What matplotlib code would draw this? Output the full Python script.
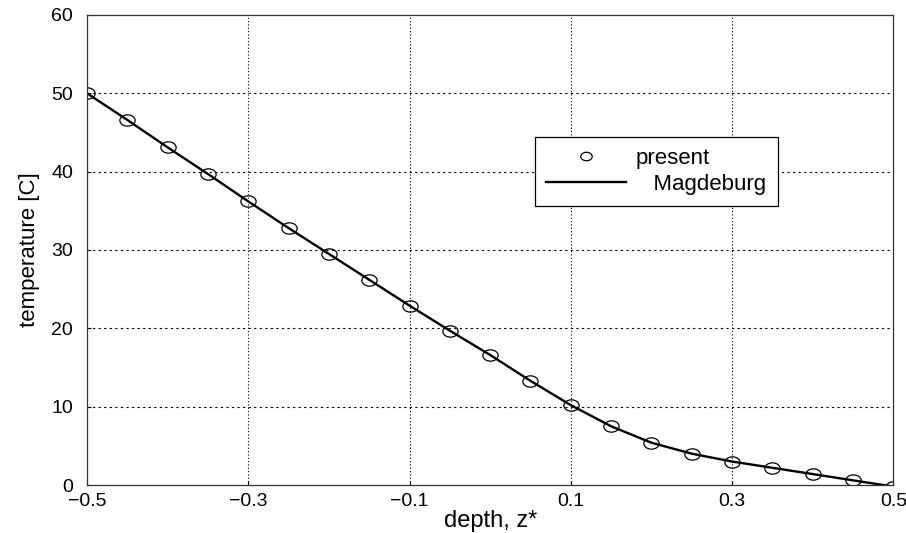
import numpy as np
import matplotlib.pyplot as plt
from matplotlib.path import Path
from matplotlib.transforms import Affine2D

plt.rcParams['font.family'] = ['Liberation Sans', 'DejaVu Sans']

depth = [-0.5, -0.45, -0.4, -0.35, -0.3, -0.25, -0.2, -0.15, -0.1, -0.05, 0.0,
         0.05, 0.1, 0.15, 0.2, 0.25, 0.3, 0.35, 0.4, 0.45, 0.5]
present = [50.0, 46.6, 43.1, 39.7, 36.2, 32.8, 29.5, 26.2, 22.9, 19.7, 16.6,
           13.3, 10.2, 7.5, 5.4, 4.0, 3.0, 2.2, 1.4, 0.6, -0.2]
magdeburg = [50.0, 46.6, 43.1, 39.7, 36.2, 32.8, 29.5, 26.2, 22.9, 19.7, 16.6,
             13.3, 10.2, 7.5, 5.4, 4.0, 3.0, 2.2, 1.4, 0.6, -0.2]
xticks = [-0.5, -0.3, -0.1, 0.1, 0.3, 0.5]
yticks = [0, 10, 20, 30, 40, 50, 60]

# slightly flattened circle, like the scanned markers
ellipse = Path.unit_circle().transformed(Affine2D().scale(1.35, 1.0))

fig = plt.figure(figsize=(9.06, 5.33), dpi=100)
ax = fig.add_axes([0.096, 0.09, 0.89, 0.882])

ax.plot(depth, magdeburg, '-', color='black', lw=1.7, label='   Magdeburg')
ax.plot(depth, present, linestyle='none', marker=ellipse, markersize=11,
        markerfacecolor='none', markeredgecolor='black', markeredgewidth=0.9,
        label='present')

ax.set_xlim(-0.5, 0.5)
ax.set_ylim(0, 60)
ax.set_xticks(xticks)
ax.set_xticklabels(['\u22120.5', '\u22120.3', '\u22120.1', '0.1', '0.3', '0.5'])
ax.set_yticks(yticks)
ax.tick_params(direction='in', length=3, labelsize=14, colors='black')
ax.tick_params(axis='x', pad=6)
ax.tick_params(axis='y', pad=10)

for v in [-0.3, -0.1, 0.1, 0.3]:
    ax.axvline(v, color='black', lw=0.8, linestyle=(0, (1, 2)))
for v in [10, 20, 30, 40, 50]:
    ax.axhline(v, color='black', lw=0.8, linestyle=(0, (2, 3)))

for s in ax.spines.values():
    s.set_linewidth(0.9)
    s.set_color('#333333')

ax.set_xlabel('depth, z*', fontsize=17, labelpad=0)
ax.set_ylabel('temperature [C]', fontsize=16, labelpad=8)

handles, labels = ax.get_legend_handles_labels()
leg = ax.legend(handles[::-1], labels[::-1], loc='upper left',
                bbox_to_anchor=(0.556, 0.74), fontsize=16, frameon=True,
                fancybox=False, edgecolor='black', framealpha=1,
                handlelength=3.6, handletextpad=0.4, markerscale=0.75,
                borderpad=0.5, labelspacing=0.2, borderaxespad=0)
leg.get_frame().set_linewidth(0.9)

fig.savefig('out.png', dpi=100)
